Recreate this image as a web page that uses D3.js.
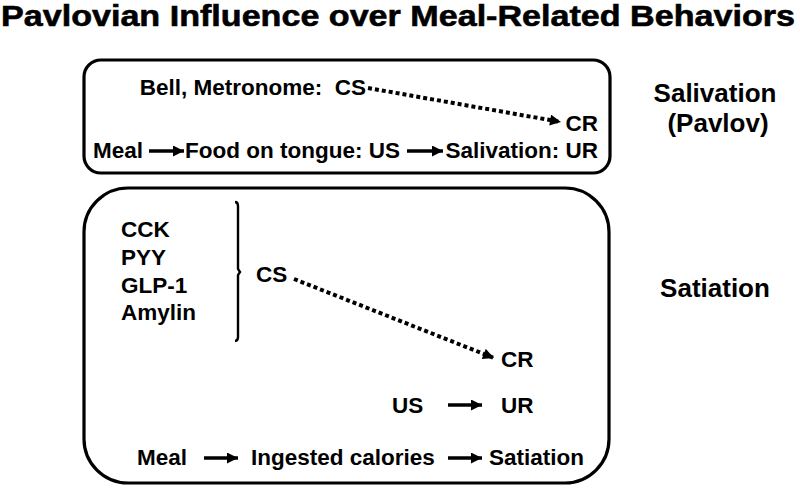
<!DOCTYPE html>
<html>
<head>
<meta charset="utf-8">
<script src="https://cdn.jsdelivr.net/npm/d3@7"></script>
<style>
	body{margin:0;background:#fff;}
	text{font-family:"Liberation Sans",Arial,sans-serif;font-weight:bold;fill:#000;white-space:pre;}
	.Title{font-family:"Liberation Sans Narrow","Arial Narrow","Liberation Sans",sans-serif;stroke:#000;stroke-width:0.6;}
</style>
</head>
<body>
<div id="idChart"></div>
<script>
// texts of the diagram
var sTitle="Pavlovian Influence over Meal-Related Behaviors";
var aSideLabels=["Salivation","(Pavlov)","Satiation"];
var aPavlovRow=["Meal","Food on tongue: US","Salivation: UR"];
var aPavlovCS=["Bell, Metronome:  CS","CR"];
var aHormones=["CCK","PYY","GLP-1","Amylin"];
var aSatietyCS=["CS","CR"];
var aSatietyUS=["US","UR"];
var aSatietyRow=["Meal","Ingested calories","Satiation"];

var iWidth=800;
var iHeight=489;

var myCanvas=d3.select("#idChart").append("svg")
	.attr("width",iWidth)
	.attr("height",iHeight);

// pixel frame of the picture
var xAxes=d3.scaleLinear().domain([0,800]).range([0,iWidth]);
var yAxes=d3.scaleLinear().domain([0,489]).range([0,iHeight]);

var myDefs=myCanvas.append("defs");
myDefs.append("marker")
	.attr("id","idHead")
	.attr("viewBox","0 0 10 10")
	.attr("refX",10).attr("refY",5)
	.attr("markerUnits","userSpaceOnUse")
	.attr("markerWidth",13).attr("markerHeight",11)
	.attr("orient","auto")
	.append("path").attr("d","M0,0L10,5L0,10Z").attr("fill","#000");

function AddText(sText,x,y,iSize,sAnchor)
{
	return myCanvas.append("text")
		.attr("xml:space","preserve")
		.text(sText)
		.attr("x",xAxes(x))
		.attr("y",yAxes(y))
		.attr("font-size",iSize)
		.attr("text-anchor",sAnchor||"start");
}

function AddArrow(x1,y1,x2,y2,bDotted)
{
	var myLine=myCanvas.append("line")
		.attr("x1",xAxes(x1)).attr("y1",yAxes(y1))
		.attr("x2",xAxes(x2)).attr("y2",yAxes(y2))
		.attr("stroke","#000")
		.attr("stroke-width",bDotted?4:3.4)
		.attr("marker-end","url(#idHead)");
	if(bDotted) myLine.attr("stroke-dasharray","4,3");
	return myLine;
}

// title
AddText(sTitle,1,26,30)
	.attr("class","Title")
	.attr("textLength",794)
	.attr("lengthAdjust","spacingAndGlyphs");

// boxes
myCanvas.append("rect")
	.attr("x",xAxes(84)).attr("y",yAxes(60))
	.attr("width",xAxes(526)).attr("height",yAxes(113))
	.attr("rx",17)
	.attr("fill","none").attr("stroke","#000").attr("stroke-width",3.2);

myCanvas.append("rect")
	.attr("x",xAxes(84)).attr("y",yAxes(188))
	.attr("width",xAxes(525)).attr("height",yAxes(295))
	.attr("rx",44)
	.attr("fill","none").attr("stroke","#000").attr("stroke-width",3.2);

// side labels
AddText(aSideLabels[0],715,102,26,"middle");
AddText(aSideLabels[1],718,132,26,"middle");
AddText(aSideLabels[2],715,297,26,"middle");

// Pavlov box
var iFont=22.5;
AddText(aPavlovCS[0],366,95,iFont,"end");
AddText(aPavlovCS[1],598,131,iFont,"end");
AddArrow(368,88,561,122,true);

AddText(aPavlovRow[0],93,158,iFont);
AddArrow(149,151,184,151);
AddText(aPavlovRow[1],185,158,iFont);
AddArrow(407,151,443,151);
AddText(aPavlovRow[2],598,158,iFont,"end");

// satiation box
aHormones.forEach(function(sName,i){
	AddText(sName,121,237+i*27.8,iFont);
});

// brace
var iBx=238, iTop=202, iBottom=341, iMid=272;
myCanvas.append("path")
	.attr("d","M"+(iBx-3)+","+iTop+"Q"+iBx+","+iTop+" "+iBx+","+(iTop+4)
		+"L"+iBx+","+(iMid-3)+"L"+(iBx+2)+","+iMid+"L"+iBx+","+(iMid+3)
		+"L"+iBx+","+(iBottom-4)+"Q"+iBx+","+iBottom+" "+(iBx-3)+","+iBottom)
	.attr("fill","none").attr("stroke","#000").attr("stroke-width",2.4);

AddText(aSatietyCS[0],256,282,iFont);
AddArrow(294,279,494,358,true);
AddText(aSatietyCS[1],501,367,iFont);

AddText(aSatietyUS[0],392,413,iFont);
AddArrow(448,405,482,405);
AddText(aSatietyUS[1],501,413,iFont);

AddText(aSatietyRow[0],137,465,iFont);
AddArrow(204,458,238,458);
AddText(aSatietyRow[1],251,465,iFont);
AddArrow(448,458,482,458);
AddText(aSatietyRow[2],489,465,iFont);
</script>
</body>
</html>
